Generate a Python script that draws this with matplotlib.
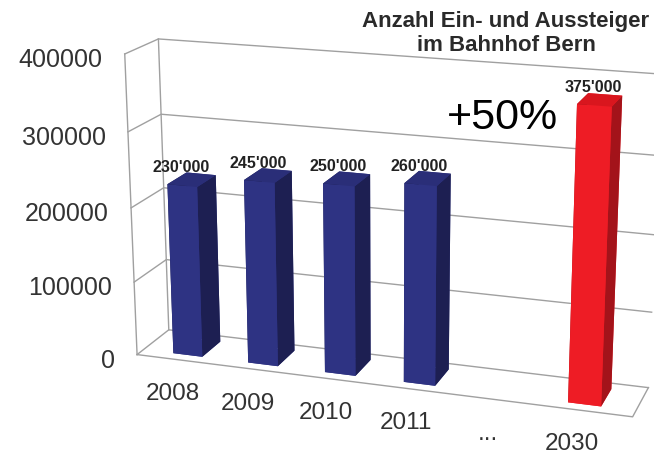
import matplotlib
matplotlib.use("Agg")
import matplotlib.pyplot as plt
from matplotlib.transforms import offset_copy
from mpl_toolkits.mplot3d import proj3d
import numpy as np

plt.rcParams['font.family'] = ['Liberation Sans', 'DejaVu Sans']

# Daten
jahre = ['2008', '2009', '2010', '2011', '...', '2030']
positionen = [0, 1, 2, 3, 4, 5]
bar_jahre = ['2008', '2009', '2010', '2011', '2030']
bar_pos = [0, 1, 2, 3, 5]
werte = [230000, 245000, 250000, 260000, 375000]
wert_labels = ["230'000", "245'000", "250'000", "260'000", "375'000"]
z_ticks = [0, 100000, 200000, 300000, 400000]
titel = "Anzahl Ein- und Aussteiger\nim Bahnhof Bern"

fig = plt.figure(figsize=(6.54, 4.56), dpi=100)
# quadratische 3D-Achse (440 px), Box ragt über die Achse hinaus -> clip_on=False
ax = fig.add_axes([0.2462, 0.01754, 0.6728, 0.9649], projection='3d')
ax.set_proj_type('persp', focal_length=0.8)
ax.view_init(elev=17, azim=-71.5)
ax.set_axis_off()

xmin, xmax = -0.6, 5.6
ymin, ymax = 0.0, 1.0
zmin, zmax = 0, 400000
ax.set_xlim(xmin, xmax)
ax.set_ylim(ymin, ymax)
ax.set_zlim(zmin, zmax)
ax.set_box_aspect((1, 0.15, 0.61), zoom=1.370)

linie = dict(color='#a0a0a0', linewidth=1.0, clip_on=False)

# Gitterlinien auf linker Wand und Rückwand
for z in z_ticks:
    ax.plot([xmin, xmin, xmax], [ymin, ymax, ymax], [z, z, z], **linie)
# linke Wand, Boden
ax.plot([xmin, xmin], [ymin, ymin], [zmin, zmax], **linie)
ax.plot([xmin, xmin], [ymax, ymax], [zmin, zmax], **linie)
ax.plot([xmin, xmax, xmax], [ymin, ymin, ymax], [zmin, zmin, zmin], **linie)

# Balken
breite = 0.39
tiefe = 0.6
y0 = 0.2
farben = []
for j in bar_jahre:
    if j == '2030':
        front, top, seite = '#ee1c25', '#d9161e', '#a3131a'
    else:
        front, top, seite = '#2e3383', '#2a2e78', '#1d1f52'
    # Reihenfolge: -z, +z, -y, +y, -x, +x
    farben += [front, top, front, front, seite, seite]

xs = np.array(bar_pos) - breite / 2
ax.bar3d(xs, [y0] * len(xs), [0] * len(xs), breite, tiefe, werte,
         color=farben, shade=False, edgecolor='none', linewidth=0,
         clip_on=False)

# Texte: 3D-Punkt projizieren, dann 2D-Text mit Pixel-Versatz
M = ax.get_proj()


def punkt2d(x, y, z):
    px, py, _ = proj3d.proj_transform(x, y, z, M)
    return px, py


def versatz(dx, dy):
    return offset_copy(ax.transData, fig=fig, x=dx, y=dy, units='dots')


# Werte über den Balken
for p, w, t in zip(bar_pos, werte, wert_labels):
    px, py = punkt2d(p, y0, w)
    ax.text2D(px, py, t, transform=versatz(-1, 19), ha='center', va='center',
              fontsize=11.5, fontweight='bold', color='#222222', zorder=100)

# z-Achsenbeschriftung
for z in z_ticks:
    px, py = punkt2d(xmin, ymin, z)
    ax.text2D(px, py, str(z), transform=versatz(-22, -5), ha='right',
              va='center', fontsize=18, color='#333333')

# Kategorien
for p, j in zip(positionen, jahre):
    px, py = punkt2d(p, ymin, zmin)
    ax.text2D(px, py, j, transform=versatz(-9, -33), ha='center',
              va='center', fontsize=17.5, color='#333333')

fig.text(502 / 654, 1 - 118 / 456, '+50%', ha='center', va='center',
         fontsize=31, color='black')
fig.text(506 / 654, 1 - 33.5 / 456, titel, ha='center', va='center',
         fontsize=16, fontweight='bold', color='#2a2a2a', linespacing=1.2)

fig.savefig('out.png', dpi=100)
